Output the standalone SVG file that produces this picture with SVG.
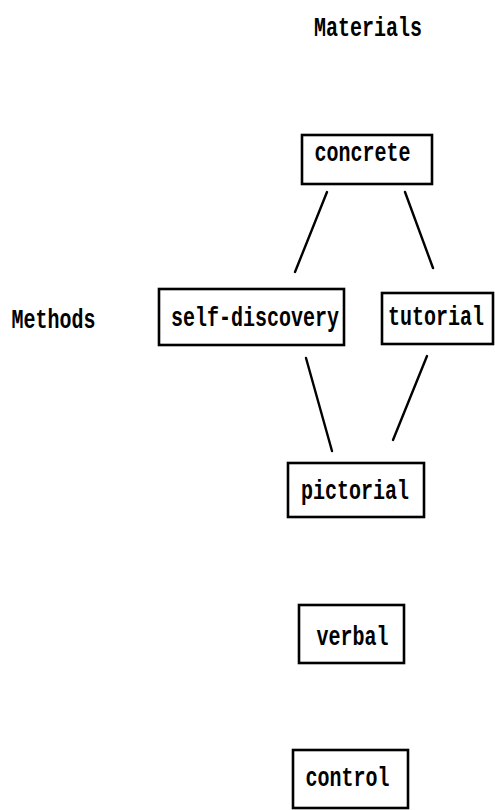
<svg xmlns="http://www.w3.org/2000/svg" width="495" height="810" viewBox="0 0 495 810">
<style>
.box{fill:none;stroke:#000;stroke-width:2.6}
.t{font-family:"Liberation Mono","Courier New",monospace;font-weight:bold;font-size:20px;fill:#000;text-anchor:middle}
.ln{stroke:#000;stroke-width:2.4;stroke-linecap:round}
</style>
<rect width="495" height="810" fill="#fff"/>
<text class="t" transform="translate(368,36) scale(1,1.35)">Materials</text>
<text class="t" transform="translate(53.5,328) scale(1,1.35)">Methods</text>
<g id="connectors">
<line class="ln" x1="327" y1="192" x2="295" y2="272"/>
<line class="ln" x1="405" y1="192" x2="433" y2="268"/>
<line class="ln" x1="306" y1="358" x2="332" y2="451"/>
<line class="ln" x1="427" y1="356" x2="393" y2="440"/>
</g>
<g id="concrete"><rect class="box" x="302" y="135" width="130" height="49"/><text class="t" transform="translate(362.5,161) scale(1,1.35)">concrete</text></g>
<g id="self-discovery"><rect class="box" x="159" y="289" width="185" height="56"/><text class="t" transform="translate(255,326) scale(1,1.35)">self-discovery</text></g>
<g id="tutorial"><rect class="box" x="382" y="293" width="111" height="51"/><text class="t" transform="translate(436,325) scale(1,1.35)">tutorial</text></g>
<g id="pictorial"><rect class="box" x="288" y="463" width="136" height="54"/><text class="t" transform="translate(355,499) scale(1,1.35)">pictorial</text></g>
<g id="verbal"><rect class="box" x="299" y="605" width="105" height="58"/><text class="t" transform="translate(352.5,645) scale(1,1.35)">verbal</text></g>
<g id="control"><rect class="box" x="293" y="750" width="115" height="58"/><text class="t" transform="translate(347.5,786) scale(1,1.35)">control</text></g>
</svg>
